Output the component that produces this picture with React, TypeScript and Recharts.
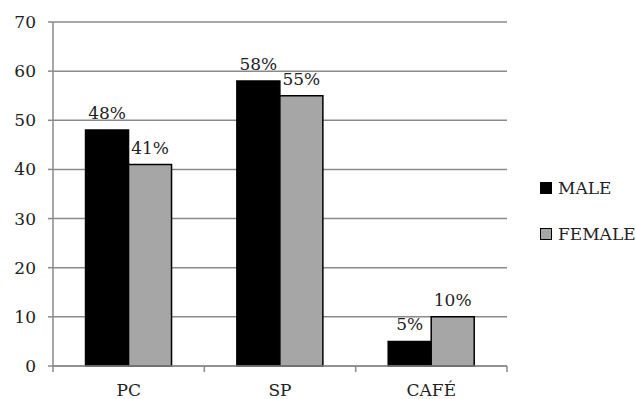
import React from "react";
import { Bar, BarChart, CartesianGrid, LabelList, XAxis, YAxis } from "recharts";

const categories = ["PC", "SP", "CAFÉ"];
const maleValues = [48, 58, 5];
const femaleValues = [41, 55, 10];
const yTicks = [0, 10, 20, 30, 40, 50, 60, 70];

const data = categories.map((name, i) => ({ name, male: maleValues[i], female: femaleValues[i] }));

const W = 636;
const H = 399;
const MARGIN = { top: 22, right: 129, bottom: 0, left: 0 };
const Y_WIDTH = 53;
const PLOT_W = W - MARGIN.left - MARGIN.right - Y_WIDTH;
const BAND = PLOT_W / categories.length;
// recharts hands the tick its y already pushed down by tickSize + tickMargin
const TICK_SHIFT = 8;

const FONT = "'DejaVu Serif', serif";
const AXIS = "#8a8a8a";
const TEXT = "#222";

const legendItems = [
  { label: "MALE", color: "#000" },
  { label: "FEMALE", color: "#a6a6a6" },
];

// category label plus tick marks on the band edges instead of the centre
function CategoryTick(props: any) {
  const { x, y, payload, index } = props;
  const axisY = y - TICK_SHIFT;
  const left = x - BAND / 2;
  const right = x + BAND / 2;
  return (
    <g>
      <line x1={left} x2={left} y1={axisY} y2={axisY + 6} stroke={AXIS} strokeWidth={1.5} />
      {index === categories.length - 1 && (
        <line x1={right} x2={right} y1={axisY} y2={axisY + 6} stroke={AXIS} strokeWidth={1.5} />
      )}
      <text x={x} y={axisY + 30} textAnchor="middle" fill={TEXT} fontFamily={FONT} fontSize={17}>
        {payload.value}
      </text>
    </g>
  );
}

function SideLegend() {
  return (
    <div
      style={{
        position: "absolute",
        left: 540,
        top: 165,
        fontFamily: FONT,
        fontSize: 17,
        color: TEXT,
      }}
    >
      {legendItems.map((it) => (
        <div key={it.label} style={{ display: "flex", alignItems: "center", height: 46 }}>
          <span
            style={{
              display: "inline-block",
              width: 10,
              height: 10,
              background: it.color,
              border: "1.5px solid #000",
              marginRight: 6,
            }}
          />
          {it.label}
        </div>
      ))}
    </div>
  );
}

const pct = (v: any) => `${v}%`;

export default function App() {
  return (
    <div style={{ position: "absolute", left: 0, top: 0, width: W, height: H, background: "#fff" }}>
      <BarChart width={W} height={H} data={data} margin={MARGIN} barGap={0} barCategoryGap="21.5%">
        <CartesianGrid vertical={false} stroke={AXIS} strokeWidth={1.5} />
        <XAxis
          dataKey="name"
          height={33}
          axisLine={{ stroke: AXIS, strokeWidth: 1.5 }}
          tickLine={false}
          tick={<CategoryTick />}
          interval={0}
        />
        <YAxis
          width={Y_WIDTH}
          domain={[0, 70]}
          ticks={yTicks}
          interval={0}
          axisLine={{ stroke: AXIS, strokeWidth: 1.5 }}
          tickLine={{ stroke: AXIS, strokeWidth: 1.5 }}
          tickSize={5}
          tickMargin={12}
          tick={{ fill: TEXT, fontFamily: FONT, fontSize: 17 }}
        />
        <Bar dataKey="male" fill="#000" stroke="#000" strokeWidth={1.5} isAnimationActive={false}>
          <LabelList dataKey="male" position="top" offset={11} formatter={pct} fill={TEXT} fontFamily={FONT} fontSize={17} />
        </Bar>
        <Bar dataKey="female" fill="#a6a6a6" stroke="#000" strokeWidth={1.5} isAnimationActive={false}>
          <LabelList dataKey="female" position="top" offset={11} formatter={pct} fill={TEXT} fontFamily={FONT} fontSize={17} />
        </Bar>
      </BarChart>
      <SideLegend />
    </div>
  );
}
